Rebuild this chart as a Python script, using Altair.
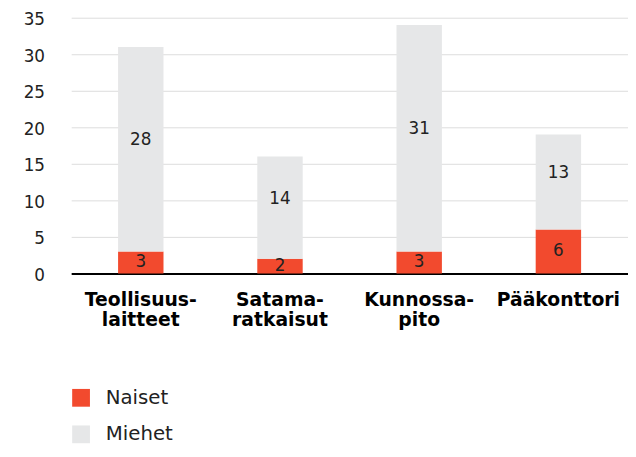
import altair as alt
import pandas as pd

categories = ["Teollisuus-\nlaitteet", "Satama-\nratkaisut", "Kunnossa-\npito", "Pääkonttori"]
naiset = [3, 2, 3, 6]
miehet = [28, 14, 31, 13]
series = ["Naiset", "Miehet"]
colors = ["#f24a2e", "#e6e7e8"]
y_ticks = [0, 5, 10, 15, 20, 25, 30, 35]

rows = []
for c, n, m in zip(categories, naiset, miehet):
    rows.append({"cat": c, "sex": "Naiset", "value": n, "ord": 0})
    rows.append({"cat": c, "sex": "Miehet", "value": m, "ord": 1})
df = pd.DataFrame(rows)

FONT = "DejaVu Sans"

base = alt.Chart(df).transform_stack(
    stack="value", groupby=["cat"], as_=["v0", "v1"],
    sort=[alt.SortField("ord", order="ascending")]
).transform_calculate(mid="(datum.v0 + datum.v1) / 2")

x_enc = alt.X("cat:N", sort=categories, title=None,
              scale=alt.Scale(paddingInner=0, paddingOuter=0),
              axis=alt.Axis(labelExpr="split(datum.label, '\\n')", labelAngle=0,
                            labelFont=FONT, labelFontSize=19, labelFontWeight="bold",
                            labelColor="#000", labelLineHeight=20, labelPadding=18,
                            ticks=False, domain=True, domainColor="#000", domainWidth=2,
                            grid=False, labelBaseline="top"))

y_scale = alt.Scale(domain=[0, 35], nice=False)
y_axis = alt.Axis(values=y_ticks, labelFont=FONT, labelFontSize=17,
                  labelColor="#222", ticks=False, domain=False, labelOffset=2,
                  gridColor="#dcdcdc", gridWidth=1, labelPadding=27)

bars = base.mark_bar(size=46).encode(
    x=x_enc,
    y=alt.Y("v0:Q", title=None, scale=y_scale, axis=y_axis),
    y2="v1:Q",
    color=alt.Color("sex:N", scale=alt.Scale(domain=series, range=colors),
                    legend=alt.Legend(title=None, orient="none", legendX=0, legendY=375,
                                      direction="vertical", symbolType="square",
                                      symbolSize=324, symbolStrokeWidth=0,
                                      symbolOpacity=1,
                                      labelFont=FONT, labelFontSize=20, labelColor="#222",
                                      labelOffset=15, rowPadding=17, padding=0)),
)

txt_n = base.transform_filter("datum.sex == 'Naiset'").mark_text(
    font=FONT, fontSize=17, color="#222", baseline="middle").encode(
    x=x_enc, y=alt.Y("mid:Q", title=None, scale=y_scale, axis=y_axis), text="value:Q")

txt_m = base.transform_filter("datum.sex == 'Miehet'").mark_text(
    font=FONT, fontSize=17, color="#222", baseline="middle", dy=-9).encode(
    x=x_enc, y=alt.Y("mid:Q", title=None, scale=y_scale, axis=y_axis), text="value:Q")

chart = alt.layer(bars, txt_n, txt_m).properties(
    width=564, height=259,
    autosize=alt.AutoSizeParams(type="none"),
    padding={"left": 64, "top": 7, "right": 0, "bottom": 175},
).configure_view(stroke=None)

chart.save("out.html", embed_options={"renderer": "svg", "actions": False})
